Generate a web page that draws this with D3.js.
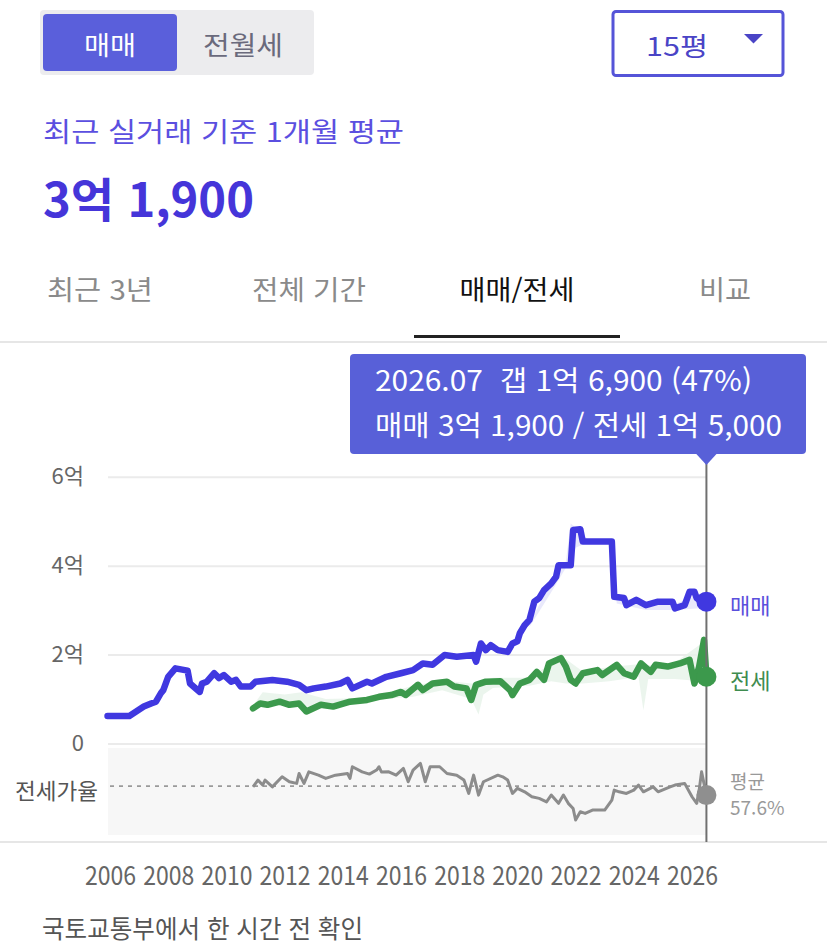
<!DOCTYPE html>
<html lang="ko">
<head>
<meta charset="utf-8">
<script src="https://cdn.jsdelivr.net/npm/d3@7"></script>
<style>
  html, body { margin: 0; padding: 0; background: #fff; }
  svg { display: block; font-family: "Noto Sans CJK KR", "Noto Sans", sans-serif; }
</style>
</head>
<body>
<svg id="chart" width="827" height="945"></svg>
<script>
// 매매 (sales) monthly average, unit: 억
const salesMonths = ["2005-12","2006-09","2007-03","2007-06","2007-08","2007-10","2007-11","2008-01","2008-04","2008-09",
  "2008-10","2009-02","2009-03","2009-05","2009-08","2009-10","2009-12","2010-03","2010-05","2010-07",
  "2010-11","2011-01","2011-08","2012-02","2012-07","2012-10","2013-01","2013-06","2013-12","2014-03",
  "2014-05","2014-11","2015-01","2015-07","2016-01","2016-06","2016-10","2017-02","2017-07","2017-12",
  "2018-07","2018-08","2018-10","2018-12","2019-02","2019-05","2019-09","2019-11","2020-01","2020-02",
  "2020-04","2020-06","2020-08","2020-10","2020-12","2021-03","2021-05","2021-06","2021-11","2021-12",
  "2022-03","2022-04","2023-04","2023-05","2023-09","2023-10","2024-02","2024-06","2024-11","2025-05",
  "2025-06","2025-10","2025-12","2026-02","2026-03","2026-04","2026-07"];
const salesPrices = [0.62,0.62,0.83,0.90,0.94,1.13,1.20,1.50,1.69,1.64,
  1.35,1.16,1.35,1.39,1.58,1.47,1.54,1.39,1.43,1.28,
  1.28,1.39,1.43,1.39,1.32,1.20,1.24,1.28,1.35,1.43,
  1.24,1.39,1.35,1.50,1.58,1.65,1.80,1.77,1.99,1.95,
  1.99,1.84,2.25,2.10,2.21,2.10,2.06,2.25,2.30,2.48,
  2.66,2.78,3.19,3.27,3.45,3.60,3.75,4.01,4.01,4.80,
  4.82,4.54,4.54,3.30,3.27,3.11,3.23,3.11,3.19,3.19,
  3.04,3.11,3.41,3.41,3.27,3.23,3.19];

// 전세 (jeonse) monthly average, unit: 억
const jeonseMonths = ["2010-12","2011-03","2011-06","2011-11","2012-03","2012-07","2012-10","2013-04","2013-09","2014-04",
  "2014-11","2015-04","2015-09","2016-01","2016-03","2016-08","2016-10","2017-02","2017-08","2017-11",
  "2018-04","2018-06","2018-08","2018-12","2019-06","2019-10","2019-11","2020-02","2020-06","2020-09",
  "2020-12","2021-02","2021-07","2021-09","2021-11","2022-01","2022-04","2022-10","2022-12","2023-06",
  "2023-09","2024-01","2024-04","2024-08","2024-10","2025-03","2025-08","2025-12","2026-02","2026-04",
  "2026-06","2026-07"];
const jeonsePrices = [0.79,0.90,0.87,0.94,0.87,0.90,0.72,0.87,0.83,0.94,
  0.98,1.05,1.09,1.16,1.09,1.32,1.20,1.35,1.39,1.28,
  1.24,0.98,1.32,1.39,1.40,1.20,1.09,1.35,1.43,1.61,
  1.43,1.80,1.92,1.73,1.43,1.35,1.58,1.65,1.54,1.77,
  1.58,1.50,1.80,1.61,1.77,1.73,1.80,1.88,1.35,1.73,
  2.33,1.50];

// spread of individual trades (faint bands), unit: 억
const salesBandMonths = ["2020-06","2021-03","2021-09","2021-11","2022-01","2022-06","2023-04","2023-06","2024-06","2025-06","2026-06"];
const salesBandLow  = [2.62,3.40,3.95,3.98,4.40,4.52,4.52,3.15,3.00,3.00,3.05];
const salesBandHigh = [2.72,3.60,4.10,4.95,4.85,4.60,4.56,3.32,3.14,3.14,3.40];
const jeonseBandMonths = ["2010-12","2011-04","2012-01","2012-08","2013-06","2014-06","2015-06","2016-06","2017-06","2018-06",
  "2018-09","2018-11","2019-03","2020-06","2021-03","2021-09","2022-04","2023-03","2024-03","2024-05","2024-07","2025-06","2026-05"];
const jeonseBandLow  = [0.79,0.88,0.86,0.84,0.80,0.90,1.00,1.05,1.20,1.00,0.65,1.10,1.25,1.30,1.40,1.35,1.35,1.40,1.50,0.75,1.45,1.45,1.40];
const jeonseBandHigh = [0.85,1.15,1.10,1.15,1.00,1.02,1.12,1.30,1.42,1.35,1.38,1.40,1.48,1.48,1.80,1.90,1.62,1.72,1.78,1.70,1.76,1.82,2.25];

// 전세가율 (%)
const ratioMonths = ["2010-12","2011-02","2011-04","2011-05","2011-08","2011-12","2012-03","2012-06","2012-07","2012-09",
  "2012-11","2013-03","2013-06","2013-10","2014-03","2014-04","2014-05","2014-09","2014-12","2015-03",
  "2015-04","2015-05","2015-08","2015-11","2016-02","2016-04","2016-06","2016-09","2016-11","2017-01",
  "2017-05","2017-08","2017-12","2018-03","2018-05","2018-07","2018-09","2018-11","2019-05","2019-07",
  "2019-09","2019-11","2020-01","2020-04","2020-07","2020-10","2021-01","2021-03","2021-06","2021-08",
  "2021-10","2021-12","2022-01","2022-03","2022-05","2022-08","2022-11","2023-01","2023-04","2023-05",
  "2023-07","2023-10","2024-01","2024-03","2024-05","2024-09","2024-11","2025-04","2025-06","2025-10",
  "2026-01","2026-03","2026-04","2026-05","2026-07"];
const ratioValues = [57.1,61.6,58.3,61.6,57.1,63.8,60.5,59.4,66.0,59.4,
  67.1,64.9,62.7,64.9,66.0,62.7,70.5,67.1,65.6,68.3,
  70.5,67.0,67.1,64.9,69.4,60.5,68.3,72.7,60.5,70.5,
  70.5,66.0,64.9,61.6,52.7,64.9,51.6,60.5,64.9,63.8,
  61.6,52.7,56.1,53.8,50.5,49.4,47.1,51.6,46.1,51.6,
  46.1,42.7,35.0,40.5,39.4,41.6,41.6,41.6,48.3,54.9,
  53.8,52.7,54.9,58.3,53.8,57.1,53.8,57.1,58.3,59.4,
  50.5,46.1,54.9,67.1,51.6];
const ratioAverage = 57.6;

const yTicks = [0, 2, 4, 6];
const xTickYears = [2006, 2008, 2010, 2012, 2014, 2016, 2018, 2020, 2022, 2024, 2026];
const toggleLabels = ["매매", "전월세"];
const tabLabels = ["최근 3년", "전체 기간", "매매/전세", "비교"];

const parseMonth = d3.timeParse("%Y-%m");
const zip = (months, vals) => months.map((m, i) => ({date: parseMonth(m), v: vals[i]}));
const sales = zip(salesMonths, salesPrices);
const jeonse = zip(jeonseMonths, jeonsePrices);
const ratio = zip(ratioMonths, ratioValues);
const salesBand = salesBandMonths.map((m, i) => ({date: parseMonth(m), lo: salesBandLow[i], hi: salesBandHigh[i]}));
const jeonseBand = jeonseBandMonths.map((m, i) => ({date: parseMonth(m), lo: jeonseBandLow[i], hi: jeonseBandHigh[i]}));

const C = {
    sales: "#4038e0",
    salesText: "#5a50dc",
    jeonse: "#3c994c",
    jeonseText: "#3f8c4f",
    ratio: "#8c8c8c",
    grid: "#ebebeb",
    brand: "#5a5fdb"
};

function fit(sel, w) {
    return sel.attr("textLength", w).attr("lengthAdjust", "spacingAndGlyphs");
}

function formatEok(v) {
    const man = Math.round(v * 10000);
    const eok = Math.floor(man / 10000);
    const rest = man % 10000;
    return rest ? `${eok}억 ${d3.format(",")(rest)}` : `${eok}억`;
}

const svg = d3.select("#chart");

// ---- header: toggle + dropdown
svg.append("rect").attr("x", 40).attr("y", 10).attr("width", 274).attr("height", 65)
    .attr("rx", 4).attr("fill", "#ececee");
svg.append("rect").attr("x", 43).attr("y", 14).attr("width", 134).attr("height", 57)
    .attr("rx", 4).attr("fill", C.brand);
fit(svg.append("text").attr("x", 110).attr("y", 43).attr("text-anchor", "middle")
    .attr("dominant-baseline", "central").attr("font-size", 26).attr("fill", "#fff")
    .text(toggleLabels[0]), 52);
fit(svg.append("text").attr("x", 243).attr("y", 43).attr("text-anchor", "middle")
    .attr("dominant-baseline", "central").attr("font-size", 26).attr("fill", "#6a6a7c")
    .text(toggleLabels[1]), 80);

svg.append("rect").attr("x", 613).attr("y", 11.5).attr("width", 170).attr("height", 64)
    .attr("rx", 3).attr("fill", "#fff").attr("stroke", "#5554d8").attr("stroke-width", 3);
fit(svg.append("text").attr("x", 677).attr("y", 44).attr("text-anchor", "middle")
    .attr("dominant-baseline", "central").attr("font-size", 26).attr("fill", "#4a44c6")
    .text("15평"), 62);
svg.append("path").attr("d", "M744,34L763,34L753.5,43.5Z").attr("fill", "#4a44c6");

// ---- headline value
const lastSales = sales[sales.length - 1];
const lastJeonse = jeonse[jeonse.length - 1];
const lastRatio = ratio[ratio.length - 1];

fit(svg.append("text").attr("x", 43).attr("y", 130).attr("dominant-baseline", "central")
    .attr("font-size", 27).attr("fill", "#5b4fe0")
    .text("최근 실거래 기준 1개월 평균"), 361);
fit(svg.append("text").attr("x", 43).attr("y", 196).attr("dominant-baseline", "central")
    .attr("font-size", 47).attr("font-weight", 700).attr("fill", "#4535d9")
    .text(formatEok(lastSales.v)), 211);

// ---- tabs
const tabCenters = [100, 309, 517, 725];
const tabWidths = [106, 114, 115, 52];
tabLabels.forEach((t, i) => {
    fit(svg.append("text").attr("x", tabCenters[i]).attr("y", 288).attr("text-anchor", "middle")
        .attr("dominant-baseline", "central").attr("font-size", 27)
        .attr("fill", i === 2 ? "#111" : "#8a8a8a").text(t), tabWidths[i]);
});
svg.append("rect").attr("x", 0).attr("y", 341).attr("width", 827).attr("height", 2).attr("fill", "#e6e6e6");
svg.append("rect").attr("x", 414).attr("y", 335).attr("width", 206).attr("height", 3).attr("fill", "#222");

// ---- scales
const x = d3.scaleTime()
    .domain([new Date(2006, 0, 1), new Date(2026, 0, 1)])
    .range([110, 692]);
const y = d3.scaleLinear().domain([0, 6]).range([743.5, 476.7]);
const yRatio = d3.scaleLinear().domain([25, 83]).range([835, 748]);
const plotLeft = 108, plotRight = 706;

// gridlines + y labels
const yAxis = svg.append("g")
    .attr("transform", `translate(${plotLeft},0)`)
    .call(d3.axisLeft(y).tickValues(yTicks).tickSize(-(plotRight - plotLeft)).tickPadding(24)
        .tickFormat(d => d ? d + "억" : "0"))
    .attr("font-family", null).attr("font-size", null);
yAxis.select(".domain").remove();
yAxis.selectAll(".tick line").attr("stroke", C.grid).attr("stroke-width", 2);
yAxis.selectAll(".tick text").attr("font-size", 22).attr("fill", "#666");

// ratio panel
svg.append("rect").attr("x", plotLeft).attr("y", 748).attr("width", plotRight - plotLeft).attr("height", 87)
    .attr("fill", "#f7f7f7");
svg.append("line").attr("x1", 110).attr("x2", plotRight)
    .attr("y1", yRatio(ratioAverage)).attr("y2", yRatio(ratioAverage))
    .attr("stroke", "#9a9a9a").attr("stroke-width", 1.6).attr("stroke-dasharray", "4 5");
fit(svg.append("text").attr("x", 98).attr("y", 789).attr("text-anchor", "end")
    .attr("dominant-baseline", "central").attr("font-size", 22).attr("fill", "#555")
    .text("전세가율"), 83);

// bands
const band = d3.area().x(d => x(d.date)).y0(d => y(d.lo)).y1(d => y(d.hi));
svg.append("path").datum(jeonseBand).attr("d", band).attr("fill", "#e6f3e8").attr("opacity", 0.8);
svg.append("path").datum(salesBand).attr("d", band).attr("fill", "#e4e4fa").attr("opacity", 0.8);

// lines
const line = d3.line().x(d => x(d.date)).y(d => y(d.v));
svg.append("path").datum(jeonse).attr("d", line).attr("fill", "none")
    .attr("stroke", C.jeonse).attr("stroke-width", 6.5)
    .attr("stroke-linejoin", "round").attr("stroke-linecap", "round");
svg.append("path").datum(sales).attr("d", line).attr("fill", "none")
    .attr("stroke", C.sales).attr("stroke-width", 6.5)
    .attr("stroke-linejoin", "round").attr("stroke-linecap", "round");
svg.append("path").datum(ratio)
    .attr("d", d3.line().x(d => x(d.date)).y(d => yRatio(d.v)))
    .attr("fill", "none").attr("stroke", C.ratio).attr("stroke-width", 3)
    .attr("stroke-linejoin", "round");

// bottom divider
svg.append("rect").attr("x", 0).attr("y", 841).attr("width", 827).attr("height", 2).attr("fill", "#e6e6e6");

// cursor
const cx = x(lastSales.date);
svg.append("line").attr("x1", cx).attr("x2", cx).attr("y1", 462).attr("y2", 842)
    .attr("stroke", "#707070").attr("stroke-width", 2);

svg.append("circle").attr("cx", cx).attr("cy", y(lastSales.v)).attr("r", 10).attr("fill", C.sales);
svg.append("circle").attr("cx", cx).attr("cy", y(lastJeonse.v)).attr("r", 10).attr("fill", C.jeonse);
svg.append("circle").attr("cx", x(lastRatio.date)).attr("cy", yRatio(lastRatio.v)).attr("r", 10).attr("fill", "#8f8f8f");

svg.append("text").attr("x", 730).attr("y", y(lastSales.v) + 2).attr("dominant-baseline", "central")
    .attr("font-size", 22).attr("fill", C.salesText).text("매매");
svg.append("text").attr("x", 730).attr("y", y(lastJeonse.v) + 2).attr("dominant-baseline", "central")
    .attr("font-size", 22).attr("fill", C.jeonseText).text("전세");
svg.append("text").attr("x", 730).attr("y", 780).attr("dominant-baseline", "central")
    .attr("font-size", 19).attr("fill", "#999").text("평균");
svg.append("text").attr("x", 730).attr("y", 806).attr("dominant-baseline", "central")
    .attr("font-size", 19).attr("fill", "#999").text(ratioAverage + "%");

// x axis labels
const xAxis = svg.append("g")
    .attr("transform", "translate(0,873)")
    .call(d3.axisBottom(x).tickValues(xTickYears.map(yr => new Date(yr, 0, 1)))
        .tickSize(0).tickPadding(0).tickFormat(d3.timeFormat("%Y")))
    .attr("font-family", null).attr("font-size", null);
xAxis.select(".domain").remove();
fit(xAxis.selectAll(".tick text").attr("font-size", 26)
    .attr("fill", "#666").attr("y", 0).attr("dy", null).attr("dominant-baseline", "central"), 51);

// tooltip
const gap = lastSales.v - lastJeonse.v;
const pct = Math.round(lastJeonse.v / lastSales.v * 100);
const tip = svg.append("g");
tip.append("rect").attr("x", 350).attr("y", 354).attr("width", 456).attr("height", 100)
    .attr("rx", 4).attr("fill", "#5860d8");
tip.append("path").attr("d", `M${cx - 11},453L${cx + 11},453L${cx},465Z`).attr("fill", "#5860d8");
fit(tip.append("text").attr("x", 375).attr("y", 379).attr("dominant-baseline", "central")
    .attr("xml:space", "preserve").style("white-space", "pre")
    .attr("font-size", 28).attr("fill", "#fff")
    .text(`${d3.timeFormat("%Y.%m")(lastSales.date)}  갭 ${formatEok(gap)} (${pct}%)`), 377);
fit(tip.append("text").attr("x", 375).attr("y", 424).attr("dominant-baseline", "central")
    .attr("font-size", 28).attr("fill", "#fff")
    .text(`매매 ${formatEok(lastSales.v)} / 전세 ${formatEok(lastJeonse.v)}`), 407);

// footer
fit(svg.append("text").attr("x", 42).attr("y", 927).attr("dominant-baseline", "central")
    .attr("font-size", 25).attr("fill", "#555")
    .text("국토교통부에서 한 시간 전 확인"), 321);
</script>
</body>
</html>
